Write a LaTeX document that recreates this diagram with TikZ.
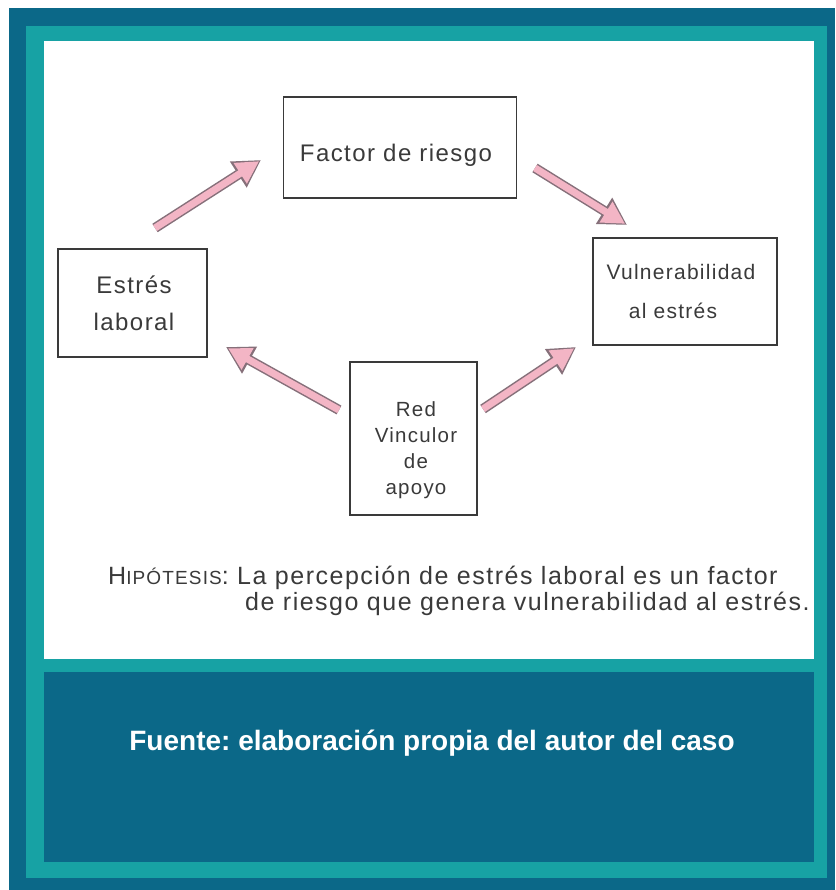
\documentclass[tikz,border=0pt]{standalone}
\usepackage{fontspec}
\setmainfont{Liberation Sans}
\newfontfamily\handfont[LetterSpace=6]{Liberation Sans}
\usetikzlibrary{arrows.meta}
\definecolor{darkblue}{HTML}{0B6888}
\definecolor{tealband}{HTML}{17A2A4}
\definecolor{pinkfill}{HTML}{F3B5C5}
\definecolor{pinkline}{HTML}{86707A}
\definecolor{ink}{HTML}{3A3A3A}
\frenchspacing
\begin{document}
\begin{tikzpicture}[x=1pt,y=-1pt,
  box/.style={draw=ink, line width=1.1pt, inner sep=0pt},
  hand/.style={text=ink, inner sep=0pt, align=center, font=\handfont\fontsize{24}{37}\selectfont},
  fatout/.style={line width=10pt, draw=pinkline, -{Triangle[length=27pt,width=29pt]}},
  fatin/.style={line width=7pt, draw=pinkfill, shorten >=2.2pt, -{Triangle[length=22.5pt,width=23pt]}},
  ]
\useasboundingbox (0,0) rectangle (835,890);
\fill[white] (0,0) rectangle (835,890);
\fill[darkblue] (9,8) rectangle (835,890);
\fill[tealband] (26,26) rectangle (827,878);
\fill[white] (44,41) rectangle (814,659);
\fill[darkblue] (44,672) rectangle (814,862);

\node[box, minimum width=233pt, minimum height=101pt] (risk) at (400,147.5) {};
\node[hand] (risktxt) at (396,155) {Factor de riesgo};
\node[box, minimum width=149pt, minimum height=108pt] (stress) at (132.5,303) {};
\node[hand] (stresstxt) at (134,303) {Estrés\\laboral};
\node[box, minimum width=184pt, minimum height=107pt] (vuln) at (685,291.5) {};
\node[hand, font=\handfont\fontsize{21}{39}\selectfont] (vulntxt) at (681,291.5) {Vulnerabilidad\\al estrés\hspace*{16pt}};
\node[box, minimum width=127pt, minimum height=153pt] (red) at (413.5,438.5) {};
\node[hand, font=\handfont\fontsize{20.5}{26}\selectfont] (redtxt) at (416,450) {Red\\Vinculor\\de\\apoyo};

\coordinate (a1s) at (155,228);
\coordinate (a1e) at (261,160);
\coordinate (a2s) at (535,168);
\coordinate (a2e) at (627,225);
\coordinate (a3s) at (339,410);
\coordinate (a3e) at (226,347);
\coordinate (a4s) at (483,409);
\coordinate (a4e) at (576,347);
\foreach \s/\e in {a1s/a1e, a2s/a2e, a3s/a3e, a4s/a4e}{
  \draw[fatout] (\s) -- (\e);
  \draw[fatin] (\s) -- (\e);
}

\node[hand, anchor=base west, font=\handfont\fontsize{25}{28}\selectfont] (hyp1) at (108,584) {H{\fontsize{19}{22}\selectfont IPÓTESIS}: La percepción de estrés laboral es un factor};
\node[hand, anchor=base west, font=\handfont\fontsize{25}{28}\selectfont] (hyp2) at (245,610) {de riesgo que genera vulnerabilidad al estrés.};

\node[text=white, font=\bfseries\fontsize{28}{32}\selectfont] (src) at (432,743) {Fuente: elaboración propia del autor del caso};
\end{tikzpicture}
\end{document}
